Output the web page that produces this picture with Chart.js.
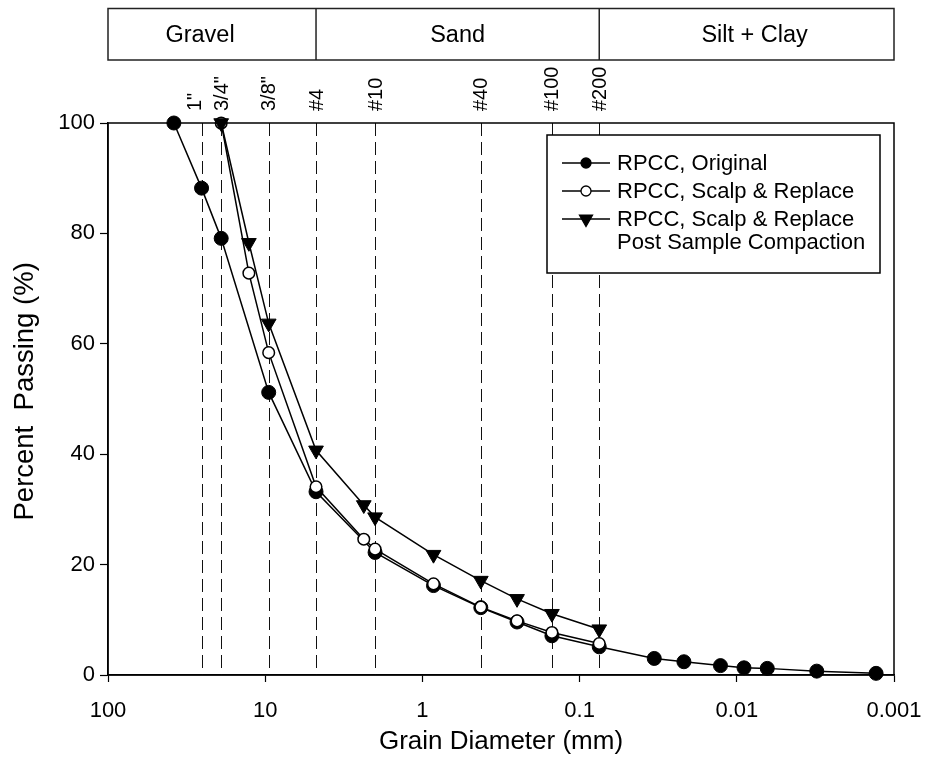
<!DOCTYPE html>
<html><head><meta charset="utf-8">
<script src="https://cdn.jsdelivr.net/npm/chart.js"></script>
<style>html,body{margin:0;padding:0;background:#fff}</style>
</head><body>
<canvas id="c" width="925" height="757" style="display:block;width:925px;height:757px"></canvas>
<script>
const FONT = "'Liberation Sans', Arial, Helvetica, sans-serif";

// ---- data ----
const originalDiam = [38.1, 25.4, 19.05, 9.5, 4.75, 2.0, 0.85, 0.425, 0.25, 0.15, 0.075, 0.0335, 0.0217, 0.0127, 0.009, 0.0064, 0.0031, 0.0013];
const originalPass = [100, 88.2, 79.1, 51.2, 33.2, 22.2, 16.2, 12.2, 9.6, 7.1, 5.1, 3.0, 2.4, 1.7, 1.3, 1.2, 0.7, 0.3];
const scalpDiam = [19.05, 12.7, 9.5, 4.75, 2.36, 2.0, 0.85, 0.425, 0.25, 0.15, 0.075];
const scalpPass = [100, 72.8, 58.4, 34.1, 24.6, 22.8, 16.5, 12.3, 9.8, 7.7, 5.7];
const postDiam = [19.05, 12.7, 9.5, 4.75, 2.36, 2.0, 0.85, 0.425, 0.25, 0.15, 0.075];
const postPass = [100, 78.3, 63.7, 40.7, 30.8, 28.6, 21.8, 17.1, 13.8, 11.1, 8.3];
const seriesNames = ['RPCC, Original', 'RPCC, Scalp & Replace', 'RPCC, Scalp & Replace', 'Post Sample Compaction'];
const sieveSizes = [25.4, 19.05, 9.5, 4.75, 2.0, 0.425, 0.15, 0.075];
const sieveLabels = ['1"', '3/4"', '3/8"', '#4', '#10', '#40', '#100', '#200'];
const soilClasses = ['Gravel', 'Sand', 'Silt + Clay'];
const soilBounds = [100, 4.75, 0.075, 0.001];
const xTicks = [100, 10, 1, 0.1, 0.01, 0.001];
const xTickLabels = ['100', '10', '1', '0.1', '0.01', '0.001'];
const yTicks = [0, 20, 40, 60, 80, 100];
const yTickLabels = ['0', '20', '40', '60', '80', '100'];

function pts(xs, ys) { return xs.map((x, i) => ({ x: x, y: ys[i] })); }

function marker(ctx, style, x, y, r, fill) {
  ctx.save();
  ctx.beginPath();
  if (style === 'triangle') {
    ctx.moveTo(x - r * 0.866, y - r * 0.5);
    ctx.lineTo(x + r * 0.866, y - r * 0.5);
    ctx.lineTo(x, y + r);
    ctx.closePath();
  } else {
    ctx.arc(x, y, r, 0, Math.PI * 2);
  }
  ctx.fillStyle = fill;
  ctx.fill();
  ctx.strokeStyle = '#000';
  ctx.lineWidth = 1.3;
  ctx.stroke();
  ctx.restore();
}

const decor = {
  id: 'decor',
  beforeDatasetsDraw(chart) {
    const ctx = chart.ctx, xs = chart.scales.x, a = chart.chartArea;
    ctx.save();
    ctx.strokeStyle = '#111';
    ctx.lineWidth = 1;
    ctx.setLineDash([13, 6]);
    sieveSizes.forEach(d => {
      const px = Math.round(xs.getPixelForValue(d)) + 0.5;
      ctx.beginPath();
      ctx.moveTo(px, a.top);
      ctx.lineTo(px, a.bottom);
      ctx.stroke();
    });
    ctx.restore();
  },
  afterDraw(chart) {
    const ctx = chart.ctx, xs = chart.scales.x, a = chart.chartArea;
    ctx.save();
    // frame around plot area
    ctx.strokeStyle = '#000';
    ctx.lineWidth = 1.5;
    ctx.strokeRect(a.left, a.top, a.right - a.left, a.bottom - a.top);

    // soil classification band
    const bTop = 8.5, bBot = 60;
    ctx.lineWidth = 1.5;
    ctx.strokeStyle = '#222';
    ctx.strokeRect(a.left, bTop, a.right - a.left, bBot - bTop);
    const bx = soilBounds.map(v => xs.getPixelForValue(v));
    for (let i = 1; i < bx.length - 1; i++) {
      ctx.beginPath();
      ctx.moveTo(bx[i], bTop);
      ctx.lineTo(bx[i], bBot);
      ctx.stroke();
    }
    const nudgeBand = [-12, 0, 8];
    ctx.fillStyle = '#000';
    ctx.font = '23.5px ' + FONT;
    ctx.textAlign = 'center';
    ctx.textBaseline = 'middle';
    soilClasses.forEach((t, i) => {
      ctx.fillText(t, (bx[i] + bx[i + 1]) / 2 + nudgeBand[i], (bTop + bBot) / 2 + 1);
    });

    // sieve labels (rotated)
    ctx.font = '20px ' + FONT;
    ctx.textAlign = 'left';
    ctx.textBaseline = 'middle';
    sieveSizes.forEach((d, i) => {
      let px = xs.getPixelForValue(d);
      if (i === 0) px -= 7;
      ctx.save();
      ctx.translate(px + 1, a.top - 12);
      ctx.rotate(-Math.PI / 2);
      ctx.fillText(sieveLabels[i], 0, 0);
      ctx.restore();
    });

    // legend
    const lx = a.right - 347, ly = a.top + 12, lw = 333, lh = 138;
    ctx.fillStyle = '#fff';
    ctx.fillRect(lx, ly, lw, lh);
    ctx.strokeStyle = '#000';
    ctx.lineWidth = 1.5;
    ctx.strokeRect(lx, ly, lw, lh);
    const rows = [ly + 28, ly + 56, ly + 84];
    const styles = [['circle', '#000', 5], ['circle', '#fff', 5], ['triangle', '#000', 7.5]];
    rows.forEach((ry, i) => {
      ctx.strokeStyle = '#000';
      ctx.lineWidth = 1.5;
      ctx.beginPath();
      ctx.moveTo(lx + 15, ry);
      ctx.lineTo(lx + 63, ry);
      ctx.stroke();
      marker(ctx, styles[i][0], lx + 39, ry, styles[i][2], styles[i][1]);
    });
    ctx.fillStyle = '#000';
    ctx.font = '22px ' + FONT;
    ctx.textAlign = 'left';
    ctx.textBaseline = 'middle';
    ctx.fillText(seriesNames[0], lx + 70, rows[0] + 1);
    ctx.fillText(seriesNames[1], lx + 70, rows[1] + 1);
    ctx.fillText(seriesNames[2], lx + 70, rows[2] + 1);
    ctx.fillText(seriesNames[3], lx + 70, rows[2] + 24);
    ctx.restore();
  }
};

new Chart(document.getElementById('c'), {
  type: 'line',
  data: {
    datasets: [
      {
        label: seriesNames[0], data: pts(originalDiam, originalPass),
        borderColor: '#000', borderWidth: 1.5, tension: 0, fill: false,
        pointStyle: 'circle', pointRadius: 7, pointBackgroundColor: '#000',
        pointBorderColor: '#000', pointBorderWidth: 1, order: 3, clip: false
      },
      {
        label: seriesNames[1], data: pts(scalpDiam, scalpPass),
        borderColor: '#000', borderWidth: 1.5, tension: 0, fill: false,
        pointStyle: 'circle', pointRadius: 5.8, pointBackgroundColor: '#fff',
        pointBorderColor: '#000', pointBorderWidth: 1.5, order: 2, clip: false
      },
      {
        label: seriesNames[2] + ' ' + seriesNames[3], data: pts(postDiam, postPass),
        borderColor: '#000', borderWidth: 1.5, tension: 0, fill: false,
        pointStyle: 'triangle', pointRotation: 180, pointRadius: 8.5, pointBackgroundColor: '#000',
        pointBorderColor: '#000', pointBorderWidth: 1, order: 1, clip: false
      }
    ]
  },
  options: {
    responsive: false,
    animation: false,
    devicePixelRatio: 1,
    layout: { padding: { top: 123, right: 31, left: 0, bottom: 0 } },
    plugins: { legend: { display: false }, tooltip: { enabled: false }, title: { display: false } },
    scales: {
      x: {
        type: 'logarithmic', reverse: true, min: 0.001, max: 100,
        afterBuildTicks: s => { s.ticks = xTicks.map(v => ({ value: v })); },
        afterFit: s => { s.height = 82; s.paddingLeft = 0; s.paddingRight = 0; },
        ticks: {
          autoSkip: false, maxRotation: 0, minRotation: 0, color: '#000', padding: 16,
          font: { family: FONT, size: 22 },
          callback: (v, i) => xTickLabels[i]
        },
        grid: { display: true, drawOnChartArea: false, drawTicks: true, tickLength: 7, color: '#000', tickColor: '#000', tickWidth: 1.2 },
        border: { display: true, color: '#000', width: 1.5 },
        title: { display: true, text: 'Grain Diameter (mm)', color: '#000', font: { family: FONT, size: 26 }, padding: { top: 0, bottom: 0 } }
      },
      y: {
        type: 'linear', min: 0, max: 100,
        afterBuildTicks: s => { s.ticks = yTicks.map(v => ({ value: v })); },
        afterFit: s => { s.width = 108; s.paddingTop = 0; s.paddingBottom = 0; },
        ticks: {
          color: '#000', padding: 5, font: { family: FONT, size: 22 },
          callback: (v, i) => yTickLabels[i]
        },
        grid: { display: true, drawOnChartArea: false, drawTicks: true, tickLength: 8, color: '#000', tickColor: '#000', tickWidth: 1.2 },
        border: { display: true, color: '#000', width: 1.5 },
        title: { display: true, text: '  Percent  Passing (%)', color: '#000', font: { family: FONT, size: 27.5 }, padding: { top: 9, bottom: 0 } }
      }
    }
  },
  plugins: [decor]
});
</script>
</body></html>
